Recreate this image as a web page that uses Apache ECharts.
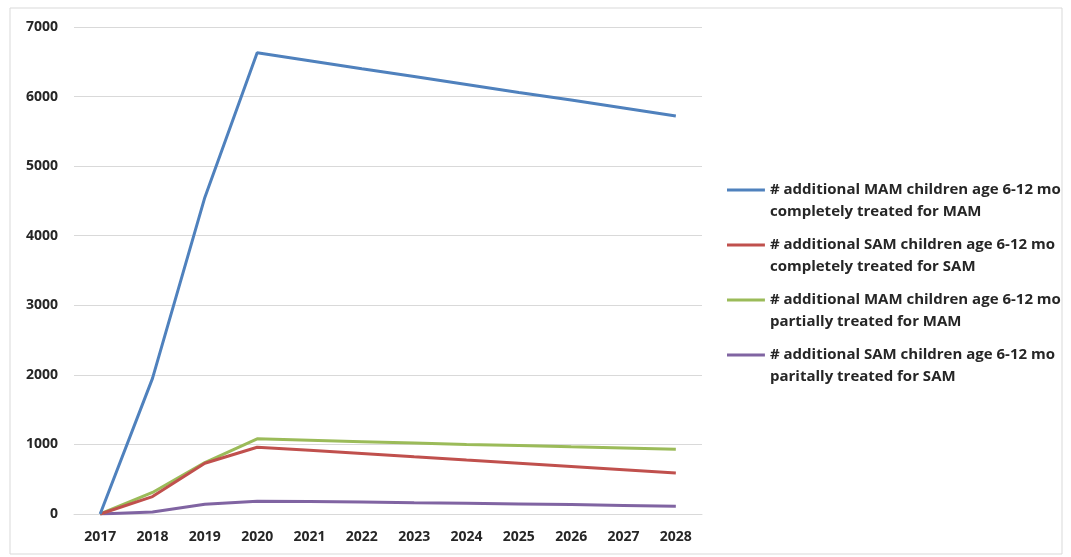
<!DOCTYPE html>
<html>
<head>
<meta charset="utf-8">
<script src="https://cdn.jsdelivr.net/npm/echarts@6/dist/echarts.min.js"></script>
<style>
  html, body { margin: 0; padding: 0; background: #ffffff; }
  #chart { width: 1071px; height: 557px; }
</style>
</head>
<body>
<div id="chart"></div>
<script>
// Years on the horizontal axis
const years = ['2017', '2018', '2019', '2020', '2021', '2022', '2023', '2024', '2025', '2026', '2027', '2028'];

// Additional children treated, per year
const mamComplete = [0, 1950, 4550, 6630, 6515, 6400, 6290, 6175, 6060, 5950, 5835, 5720];
const samComplete = [0, 250, 730, 960, 915, 870, 822, 775, 730, 683, 637, 590];
const mamPartial  = [0, 310, 740, 1080, 1060, 1040, 1020, 1000, 985, 965, 948, 930];
const samPartial  = [0, 30, 140, 185, 180, 172, 163, 155, 145, 135, 122, 110];

const seriesNames = [
  '# additional MAM children age 6-12 mo\ncompletely treated for MAM',
  '# additional SAM children age 6-12 mo\ncompletely treated for SAM',
  '# additional MAM children age 6-12 mo\npartially treated for MAM',
  '# additional SAM children age 6-12 mo\nparitally treated for SAM'
];
const seriesData = [mamComplete, samComplete, mamPartial, samPartial];
const colors = ['#4f81bd', '#c0504d', '#9bbb59', '#8064a2'];

const fontFamily = '"Open Sans", "Liberation Sans", sans-serif';

// Legend swatch: a short bar at the top of the icon box, so it sits beside the first text line
const legendSwatch = 'path://M0,0H38V3H0Z M0,25H0.05V25.05H0Z';

const chart = echarts.init(document.getElementById('chart'), null, { renderer: 'canvas' });

chart.setOption({
  backgroundColor: '#ffffff',
  animation: false,
  color: colors,
  grid: { left: 74, right: 369, top: 27, bottom: 43, containLabel: false },
  graphic: [{
    type: 'rect',
    shape: { x: 10, y: 8, width: 1052, height: 546 },
    style: { fill: 'none', stroke: '#d9d9d9', lineWidth: 1 },
    silent: true
  }],
  legend: {
    orient: 'vertical',
    left: 722,
    top: 174,
    itemWidth: 38,
    itemHeight: 25,
    itemGap: 11,
    icon: legendSwatch,
    textStyle: {
      fontFamily: fontFamily,
      fontSize: 15,
      fontWeight: 'bold',
      color: '#262626',
      lineHeight: 22
    },
    data: seriesNames
  },
  xAxis: {
    type: 'category',
    data: years,
    boundaryGap: true,
    axisLine: { show: true, lineStyle: { color: '#d9d9d9', width: 1 } },
    axisTick: { show: false },
    axisLabel: {
      margin: 16,
      fontFamily: fontFamily,
      fontSize: 14,
      fontWeight: 'bold',
      color: '#262626'
    },
    splitLine: { show: false }
  },
  yAxis: {
    type: 'value',
    min: 0,
    max: 7000,
    interval: 1000,
    axisLine: { show: false },
    axisTick: { show: false },
    axisLabel: {
      margin: 16,
      fontFamily: fontFamily,
      fontSize: 14,
      fontWeight: 'bold',
      color: '#262626',
      formatter: (v) => String(v)
    },
    splitLine: { show: true, lineStyle: { color: '#d9d9d9', width: 1 } }
  },
  series: seriesData.map((d, i) => ({
    name: seriesNames[i],
    type: 'line',
    data: d,
    symbol: 'none',
    smooth: false,
    lineStyle: { width: 3, color: colors[i] },
    itemStyle: { color: colors[i] },
    z: 10 - i
  }))
});
</script>
</body>
</html>
